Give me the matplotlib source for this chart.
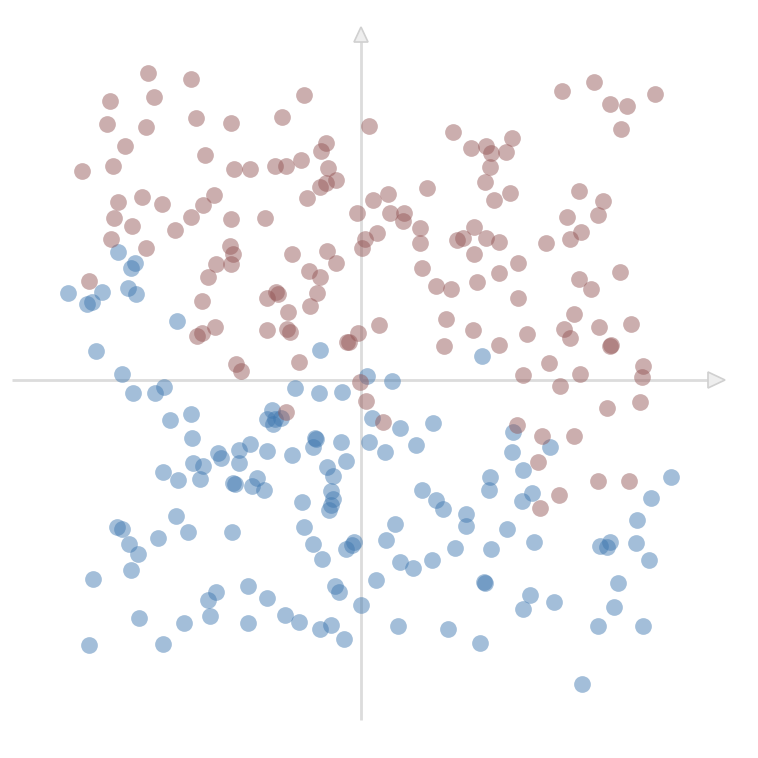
import numpy as np
import matplotlib
matplotlib.use("Agg")
import matplotlib.pyplot as plt
from matplotlib.patches import Polygon

# Class A (brown) points: x, y relative to axes origin
brown_x = [-213, -170, -251, -207, -254, -215, -165, -130, -236, -156, -279, -248, -127, -111,
           -243, -219, -199, -147, -158, -247, -229, -186, -170, -130, -96, -250, -215, -131,
           -128, -145, -130, -272, -153, -159, -146, -164, -159, -125, -120, -94, -94,
           -57, -79, -35, -40, -60, -86, -75, -33, -25, -41, -35, -54, -69, -34, -25, -52, -41,
           -85, -83, -44, -51, -73, -74, -71, -14, -12, -62, -3,
           8, 92, 110, 66, 12, 27, -4, 29, 43, 42, 59, 59, 16, 4, 1, 96, 102, 113, 113, 61,
           201, 233, 249, 266, 294, 260, 125, 130, 145, 151, 129, 124, 149, 133, 218, 242, 237,
           206, 220, 209, 185, 125, 138, 157, 138, 218, 259,
           116, 230, 157, 213, 203, 209, 238, 270, 249, 250, 166, 138, 112, 188, 162, 219, 199,
           282, 281, 279, 246, 156, 181, 213, 177, 237, 268, 198, 179,
           75, 90, 85, 83, 18,
           -75, -1, 5, 22]
brown_y = [307, 301, 279, 283, 256, 253, 262, 257, 234, 225, 209, 214, 211, 211,
           178, 183, 176, 185, 175, 162, 154, 150, 163, 161, 162, 141, 132, 134,
           126, 116, 116, 99, 103, 79, 53, 44, 47, 16, 9, 82, 50,
           285, 263, 237, 229, 220, 214, 214, 212, 200, 193, 197, 182, 126, 129, 117, 109, 103,
           88, 86, 87, 74, 68, 51, 48, 38, 38, 18, 47,
           254, 248, 232, 192, 180, 186, 167, 167, 167, 159, 152, 137, 147, 141, 132, 140, 142,
           153, 126, 112,
           289, 298, 276, 274, 286, 251, 234, 227, 228, 242, 213, 198, 187, 180, 189, 179, 165,
           163, 148, 141, 137, 142, 138, 117, 107, 101, 108,
           98, 91, 82, 66, 51, 42, 53, 56, 34, 35, 46, 35, 50, 17, 5, 6, -6,
           14, 3, -22, -28, -45, -56, -56, -82, -101, -101, -115, -128,
           94, 91, 61, 34, 55,
           -32, -2, -21, -42]

# Class B (blue) points
blue_x = [-243, -226, -230, -293, -274, -269, -259, -233, -225, -184, -265, -239, -228, -206,
          -197, -191, -170, -169, -143, -140, -122, -111, -122, -168, -158, -198, -183, -161,
          -128, -126, -109, -104, -97,
          -185, -244, -239, -232, -223, -203, -173, -129, -230, -268, -145, -153, -113, -94,
          -151, -222, -177, -113, -272, -198,
          -41, 6, 31, -66, -42, -19, -89, -94, -86, -88, -80, 11, 39, 72, -46, -48, -45, -20, 8,
          55, 24, -94, -69, -15, -34, -28,
          -30, -28, -30, -32, -59, -57, -48, -39, -15, -7, -9, 34, 25, 39, 52, 71, 61, 75, 82,
          105, 105, 94, 123, 124, 15, -26, -22, 0, -76, -62, -41, -30, -17, 37, 87, 119,
          121, 152, 189, 151, 162, 129, 128, 161, 171, 310, 290, 276, 275, 288, 146, 130, 173,
          239, 249, 246, 169, 162, 193, 257, 253, 237, 282, 221]
blue_y = [128, 117, 112, 87, 76, 78, 88, 92, 86, 59, 29, 6, -13, -13,
          -7, -40, -34, -58, -73, -78, -70, -64, -83, -83, -86, -92, -100, -99,
          -103, -104, -106, -98, -110,
          -136, -147, -149, -164, -174, -158, -152, -152, -190, -199, -212, -220, -206, -218,
          -236, -238, -243, -243, -265, -264,
          30, 4, -1, -8, -13, -12, -30, -39, -39, -44, -38, -38, -48, -43, -58, -67, -59, -62,
          -62, -65, -72, -71, -75, -81, -87, -96,
          -111, -119, -125, -130, -122, -147, -164, -179, -169, -162, -165, -144, -160, -182,
          -188, -180, -110, -120, -129, -134, -146, -168, -202, -203, -200, -206, -212, -225,
          -235, -242, -249, -245, -259, -246, -249, -263,
          24, -52, -67, -72, -90, -97, -110, -121, -113, -97, -118, -140, -163, -180, -149,
          -169, -162, -166, -162, -167, -215, -229, -222, -203, -227, -246, -246, -304]

brown_color = "#945656"
blue_color = "#3f78b0"

fig = plt.figure(figsize=(7.58, 7.58), dpi=100)
ax = fig.add_axes([0, 0, 1, 1])
ax.set_xlim(-361, 397)
ax.set_ylim(-378, 380)
ax.axis("off")

axis_col = "#dcdcdc"
ax.plot([-349, 349], [0, 0], color=axis_col, lw=2.0, zorder=1, solid_capstyle="butt")
ax.plot([0, 0], [-340, 340], color=axis_col, lw=2.0, zorder=1, solid_capstyle="butt")
ax.add_patch(Polygon([[347, -8], [364, 0], [347, 8]], closed=True,
                     facecolor="#eeeeee", edgecolor="#d0d0d0", lw=1.2, zorder=1))
ax.add_patch(Polygon([[-7, 338], [0, 353], [7, 338]], closed=True,
                     facecolor="#eeeeee", edgecolor="#d0d0d0", lw=1.2, zorder=1))

ax.scatter(blue_x, blue_y, s=145, color=blue_color, alpha=0.48,
           linewidths=0, zorder=2)
ax.scatter(brown_x, brown_y, s=145, color=brown_color, alpha=0.48,
           linewidths=0, zorder=2)

fig.savefig("out.png", dpi=100, facecolor="white")
